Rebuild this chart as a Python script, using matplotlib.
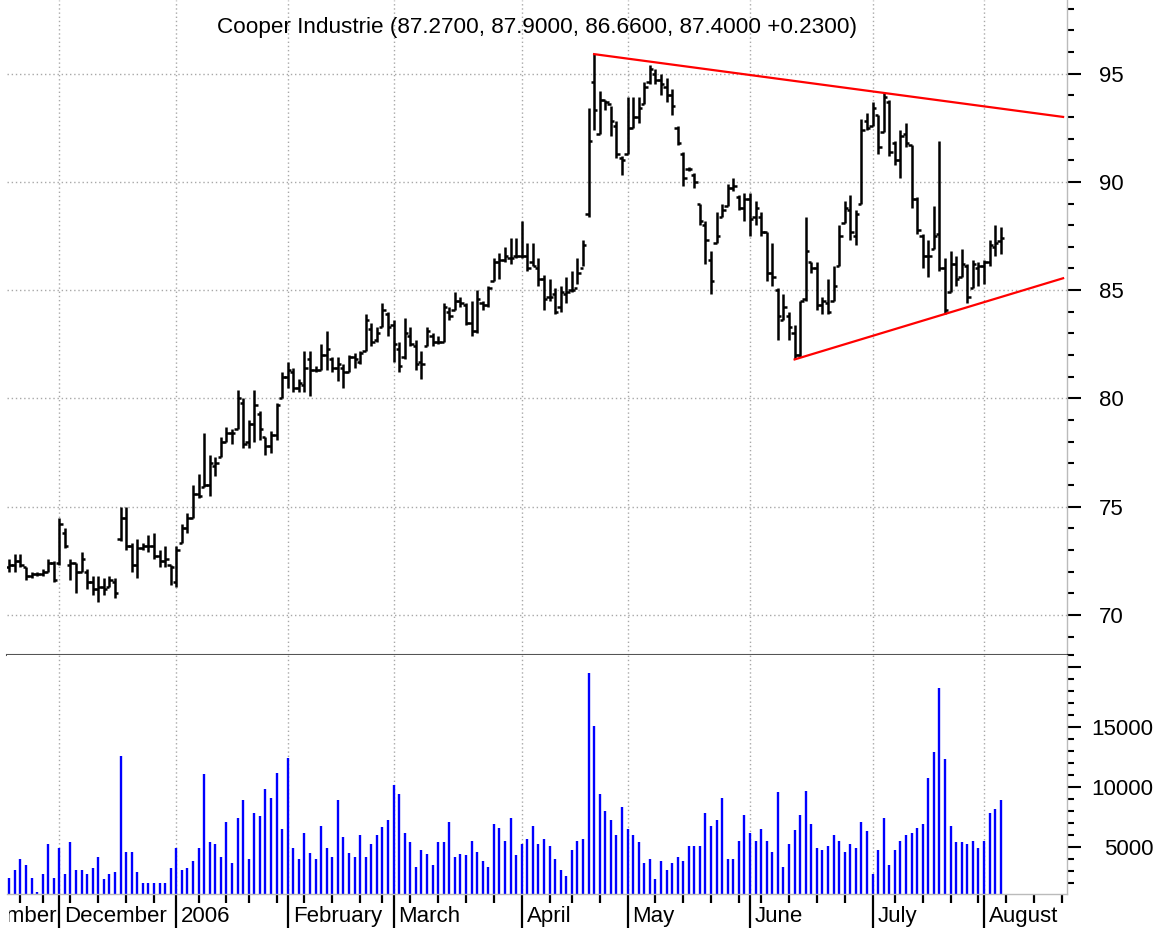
import matplotlib
matplotlib.use('Agg')
import matplotlib.pyplot as plt
import matplotlib.transforms as mtransforms
from matplotlib.ticker import FixedLocator, MultipleLocator
import numpy as np
import pandas as pd

plt.rcParams['font.family'] = ['Liberation Sans', 'DejaVu Sans']

# trading calendar (Nov 2005 - Aug 2006)
holidays = ['2005-11-24', '2005-12-26', '2006-01-02', '2006-01-16',
            '2006-02-20', '2006-04-14', '2006-05-29', '2006-07-04']
first_day = '2005-11-17'
month_names = ['November', 'December', '2006', 'February', 'March',
               'April', 'May', 'June', 'July', 'August']

title = 'Cooper Industrie (87.2700, 87.9000, 86.6600, 87.4000 +0.2300)'

opens = [72.2, 72.3, 72.5, 72.2, 71.8, 71.9, 71.9, 72.0, 72.4, 72.4,
         73.8, 72.3, 72.4, 72.0, 72.0, 71.5, 71.2, 71.3, 71.3, 71.5,
         73.5, 74.5, 73.2, 72.3, 73.1, 73.2, 73.2, 72.7, 72.5, 72.3,
         71.5, 73.3, 74.0, 74.5, 75.6, 75.9, 76.0, 76.9, 77.3, 78.0,
         78.4, 78.6, 79.8, 78.0, 78.8, 79.3, 78.2, 77.8, 78.3, 80.0,
         81.0, 81.2, 80.5, 80.6, 81.8, 81.3, 81.3, 82.0, 81.8, 81.4,
         81.4, 81.2, 81.9, 81.7, 82.2, 83.2, 82.7, 83.3, 83.9, 83.4,
         82.3, 81.9, 82.9, 82.4, 81.7, 82.4, 82.9, 82.6, 82.6, 84.0,
         84.1, 84.5, 84.3, 83.5, 83.1, 84.4, 84.3, 85.4, 86.3, 86.4,
         86.5, 86.6, 86.6, 86.6, 86.3, 86.0, 85.5, 84.7, 84.8, 84.2,
         84.8, 85.0, 85.1, 86.0, 88.5, 94.6, 92.2, 93.8, 93.6, 92.6,
         91.1, 91.3, 92.5, 93.0, 93.6, 94.6, 95.0, 94.7, 94.4, 94.0,
         92.5, 91.3, 90.6, 90.3, 89.0, 88.0, 86.4, 87.2, 88.4, 88.9,
         89.7, 89.3, 88.8, 89.2, 88.4, 88.4, 87.7, 85.8, 85.0, 83.6,
         83.8, 83.0, 82.0, 84.6, 86.3, 86.0, 84.3, 84.4, 84.5, 86.1,
         88.1, 88.7, 87.5, 89.0, 92.8, 92.6, 93.1, 92.3, 93.7, 91.8,
         91.0, 92.2, 91.7, 89.2, 87.5, 86.6, 86.9, 87.6, 86.0, 84.9,
         86.2, 85.6, 86.1, 85.1, 86.0, 86.1, 86.3, 87.0, 87.27]
highs = [72.6, 72.8, 72.8, 72.2, 72.0, 72.0, 72.1, 72.6, 72.5, 74.5,
         74.0, 72.6, 72.4, 72.9, 72.1, 71.8, 71.8, 71.7, 71.8, 71.7,
         75.0, 75.0, 73.3, 73.5, 73.3, 73.7, 73.8, 73.0, 73.2, 72.3,
         73.2, 74.2, 74.7, 76.0, 76.5, 78.4, 77.4, 77.3, 78.2, 78.7,
         78.6, 80.4, 80.0, 79.0, 80.4, 79.4, 78.2, 78.5, 79.8, 81.2,
         81.7, 81.4, 80.9, 82.2, 82.2, 81.5, 82.5, 83.1, 81.9, 81.9,
         81.6, 82.0, 82.1, 82.2, 83.9, 83.5, 83.3, 84.4, 84.0, 83.6,
         82.6, 83.7, 83.3, 82.7, 82.2, 83.3, 83.0, 82.9, 84.4, 84.2,
         84.9, 84.7, 84.4, 84.5, 85.0, 84.5, 85.2, 86.5, 86.7, 87.0,
         87.4, 87.4, 88.2, 87.2, 87.2, 86.5, 85.7, 85.5, 85.1, 85.2,
         85.6, 85.9, 86.5, 87.3, 93.4, 95.9, 94.2, 93.8, 93.5, 92.8,
         91.2, 93.9, 93.9, 93.9, 94.6, 95.4, 95.2, 95.0, 94.8, 94.3,
         92.6, 91.4, 90.7, 90.4, 89.0, 88.2, 86.8, 88.6, 89.0, 89.9,
         90.2, 89.4, 89.5, 89.5, 89.1, 88.6, 87.7, 87.2, 85.1, 84.8,
         84.0, 83.4, 84.5, 88.4, 86.3, 86.3, 84.7, 85.5, 86.1, 88.0,
         89.1, 89.4, 88.7, 92.9, 93.2, 93.7, 93.1, 94.1, 93.8, 91.9,
         92.4, 92.7, 91.7, 89.3, 87.6, 87.3, 88.9, 91.9, 86.5, 86.8,
         86.6, 86.9, 86.2, 86.4, 86.3, 86.4, 87.3, 88.0, 87.9]
lows = [72.0, 72.0, 72.2, 71.6, 71.7, 71.8, 71.8, 72.0, 71.5, 72.3,
        73.1, 71.6, 71.0, 72.0, 71.2, 70.9, 70.6, 70.9, 71.3, 70.8,
        73.4, 73.0, 72.0, 71.7, 73.0, 72.9, 72.6, 72.2, 72.2, 71.4,
        71.3, 73.3, 73.8, 74.5, 75.4, 75.9, 75.5, 76.4, 77.3, 78.0,
        77.9, 78.6, 77.7, 77.7, 78.0, 78.1, 77.4, 77.5, 78.1, 80.0,
        80.5, 80.3, 80.3, 80.3, 80.1, 81.2, 81.3, 81.3, 81.2, 80.8,
        80.5, 81.2, 81.4, 81.6, 82.2, 82.4, 82.6, 83.3, 82.9, 81.7,
        81.2, 81.8, 82.4, 81.3, 80.9, 82.4, 82.4, 82.5, 82.6, 83.6,
        84.1, 84.2, 83.4, 82.9, 83.0, 84.1, 84.2, 85.4, 85.5, 86.3,
        86.2, 86.5, 86.5, 85.9, 86.1, 85.2, 84.1, 84.5, 83.9, 84.0,
        84.4, 84.9, 85.3, 86.1, 88.4, 92.4, 92.2, 93.3, 92.1, 91.1,
        90.3, 91.3, 92.5, 92.7, 93.6, 94.5, 94.5, 94.0, 93.7, 93.1,
        91.7, 89.8, 90.5, 89.7, 88.0, 86.2, 84.8, 87.2, 88.4, 88.9,
        89.6, 88.7, 88.2, 87.5, 88.0, 87.5, 85.4, 85.2, 82.7, 83.6,
        82.7, 81.8, 81.9, 84.5, 85.8, 84.1, 83.9, 83.9, 84.5, 86.1,
        88.1, 87.3, 87.1, 89.0, 92.4, 92.6, 91.3, 92.3, 91.2, 90.8,
        90.2, 91.6, 88.8, 87.6, 86.0, 85.6, 86.9, 85.9, 83.9, 84.9,
        85.2, 85.6, 84.4, 85.1, 85.2, 85.3, 86.1, 86.6, 86.66]
closes = [72.3, 72.5, 72.3, 71.8, 71.9, 71.9, 72.0, 72.4, 71.6, 74.2,
          73.2, 72.4, 72.0, 72.6, 71.5, 71.2, 71.3, 71.2, 71.6, 71.0,
          74.5, 73.2, 72.3, 73.1, 73.2, 73.2, 72.7, 72.5, 72.6, 72.2,
          73.0, 74.0, 74.5, 75.6, 75.5, 76.0, 77.0, 77.0, 78.0, 78.4,
          78.4, 80.0, 77.9, 78.8, 79.7, 78.6, 77.8, 78.3, 79.7, 81.0,
          81.3, 80.5, 80.7, 81.4, 81.3, 81.3, 82.0, 82.3, 81.4, 81.6,
          81.2, 81.9, 81.8, 82.1, 83.6, 82.6, 83.0, 84.1, 83.3, 82.5,
          81.5, 83.0, 82.5, 81.6, 81.6, 83.1, 82.6, 82.6, 84.2, 83.8,
          84.5, 84.4, 83.5, 83.1, 84.6, 84.3, 85.1, 86.3, 86.4, 86.6,
          86.5, 86.6, 86.6, 86.0, 86.1, 85.5, 84.6, 84.7, 84.0, 84.9,
          84.9, 85.0, 85.8, 87.1, 91.9, 93.3, 93.8, 93.7, 92.8, 91.3,
          91.0, 92.5, 93.0, 93.4, 94.4, 95.2, 94.7, 94.5, 94.0, 93.5,
          91.8, 90.2, 90.6, 90.0, 88.2, 87.3, 85.4, 87.5, 88.7, 89.7,
          89.8, 88.8, 89.2, 88.3, 88.8, 87.7, 85.8, 85.6, 83.8, 84.2,
          83.3, 82.0, 84.5, 86.8, 86.0, 84.3, 84.5, 84.0, 85.2, 87.5,
          88.8, 87.7, 88.5, 92.4, 92.5, 93.4, 91.6, 93.9, 91.4, 91.0,
          92.1, 91.8, 89.2, 87.8, 86.6, 86.6, 87.5, 86.0, 84.1, 86.2,
          85.5, 86.2, 84.7, 86.2, 86.1, 86.3, 87.1, 87.2, 87.40]
volumes = [2420, 3060, 3970, 3500, 2420, 1190, 2720, 5190, 2420, 4890,
           2720, 5360, 3060, 3060, 2720, 3190, 4140, 2280, 2720, 2890,
           12580, 4580, 4580, 2890, 1970, 1970, 1970, 1970, 1970, 3190,
           4890, 3060, 3190, 3830, 4890, 11060, 5360, 5190, 4140, 7060,
           3670, 7360, 8890, 3970, 7830, 7530, 9830, 9060, 11190, 6440,
           12440, 4890, 3970, 6140, 4440, 3970, 6750, 4890, 4140, 8890,
           5830, 4440, 4140, 5970, 4140, 5190, 5970, 6610, 7220, 10140,
           9360, 6140, 5360, 3330, 4720, 4420, 3500, 5360, 5360, 7060,
           4140, 4420, 4280, 5500, 4580, 3810, 3330, 6890, 6580, 5500,
           7360, 4280, 5190, 5670, 6750, 5190, 5670, 5030, 3970, 3060,
           2580, 4720, 5500, 5670, 19470, 15060, 9360, 7970, 7190, 5970,
           8280, 6440, 5970, 5360, 3670, 3970, 2280, 3810, 3060, 3670,
           4110, 3810, 5030, 5030, 5030, 7810, 6750, 7190, 9060, 3970,
           3970, 5500, 7670, 6140, 5500, 6440, 5500, 4580, 9530, 3330,
           5190, 6420, 7670, 9670, 6890, 4890, 4720, 5030, 5970, 5500,
           4580, 5190, 4890, 7060, 6280, 2720, 4720, 7360, 3500, 4720,
           5500, 5970, 6110, 6580, 6890, 10750, 12890, 18280, 12280, 6750,
           5360, 5360, 5190, 5500, 4890, 5500, 7810, 8140, 8890]

# triangle boundaries (bar number from first bar, price)
upper_line_bar = [105, 189.2]
upper_line_price = [95.9, 93.0]
lower_line_bar = [141, 189.2]
lower_line_price = [81.8, 85.55]

days = pd.bdate_range('2005-11-01', '2006-08-25')
days = days[~days.isin(pd.to_datetime(holidays))]
start = days.get_loc(pd.Timestamp(first_day))
x = np.arange(start, start + len(opens))

month_starts = [i for i in range(len(days)) if i == 0 or days[i].month != days[i - 1].month]
week_starts = [i for i in range(1, len(days)) if days[i].weekday() < days[i - 1].weekday()]

W, H = 1166, 931
fig = plt.figure(figsize=(W / 100, H / 100), dpi=100)
ax = fig.add_axes([7 / W, 1 - 655 / H, 1060 / W, 655 / H])
axv = fig.add_axes([7 / W, 1 - 894 / H, 1060 / W, 239 / H], sharex=ax)

grid_kw = dict(color='#a8a8a8', linestyle=(0, (1, 2)), linewidth=1.0)

# price panel
ax.set_axisbelow(True)
ax.vlines(x, lows, highs, color='black', linewidth=1.8)
ax.hlines(opens, x - 0.6, x, color='black', linewidth=1.8)
ax.hlines(closes, x, x + 0.6, color='black', linewidth=1.8)
ax.plot(np.array(upper_line_bar) + start, upper_line_price, color='#ff0000', linewidth=1.6)
ax.plot(np.array(lower_line_bar) + start, lower_line_price, color='#ff0000', linewidth=1.6)

ax.set_xlim(11.6, 201.9)
ax.set_ylim(68.15, 98.4)
ax.yaxis.tick_right()
ax.yaxis.set_major_locator(MultipleLocator(5))
ax.yaxis.set_minor_locator(MultipleLocator(1))
ax.tick_params(axis='y', which='major', direction='out', length=10, width=1.5,
               labelsize=16, pad=13, colors='black')
ax.tick_params(axis='y', which='minor', direction='out', length=5, width=1.5)
ax.grid(True, axis='y', which='major', **grid_kw)
ax.grid(True, axis='x', which='major', **grid_kw)
for s in ['top', 'left']:
    ax.spines[s].set_visible(False)
ax.spines['right'].set_color('#bbbbbb')
ax.spines['right'].set_linewidth(1)
ax.spines['bottom'].set_color('#555555')
ax.spines['bottom'].set_linewidth(1.5)

# volume panel
axv.set_axisbelow(True)
axv.vlines(x, 1050, volumes, color='#0000ff', linewidth=1.7)
axv.set_ylim(1050, 21000)
axv.yaxis.tick_right()
axv.set_yticks([5000, 10000, 15000, 20000])
axv.set_yticklabels(['5000', '10000', '15000', ''])
axv.yaxis.set_minor_locator(MultipleLocator(1000))
axv.tick_params(axis='y', which='major', direction='out', length=10, width=1.5,
                labelsize=16, pad=52)
axv.tick_params(axis='y', which='minor', direction='out', length=5, width=1.5)
for lab in axv.get_yticklabels():
    lab.set_horizontalalignment('right')

axv.xaxis.set_major_locator(FixedLocator(month_starts))
axv.xaxis.set_minor_locator(FixedLocator(week_starts))
axv.tick_params(axis='x', which='major', direction='out', length=24.5, width=1.6,
                labelbottom=False, color='black')
axv.tick_params(axis='x', which='minor', direction='out', length=6.5, width=1.6,
                color='black')
ax.tick_params(axis='x', which='both', length=0, labelbottom=False)
axv.grid(True, axis='x', which='major', **grid_kw)
for s in ['top', 'left']:
    axv.spines[s].set_visible(False)
axv.spines['right'].set_color('#bbbbbb')
axv.spines['right'].set_linewidth(1)
axv.spines['bottom'].set_color('#bbbbbb')
axv.spines['bottom'].set_linewidth(1)

# month names to the right of each month divider; the November one is cut at the plot's left edge
base = mtransforms.blended_transform_factory(axv.transData, axv.transAxes)
label_clip = mtransforms.TransformedBbox(mtransforms.Bbox([[9 / W, 0], [1, 1]]), fig.transFigure)
for m, name in zip(month_starts, month_names):
    shift = 12 if name == 'November' else 5
    trans = mtransforms.offset_copy(base, fig=fig, x=shift, y=0, units='dots')
    t = axv.text(m, -0.095, name, transform=trans, ha='left', va='center',
                 fontsize=16, clip_on=True)
    t.set_clip_box(label_clip)

fig.text(537 / W, 1 - 27 / H, title, ha='center', va='center', fontsize=16.2)

fig.savefig('out.png', dpi=100)
